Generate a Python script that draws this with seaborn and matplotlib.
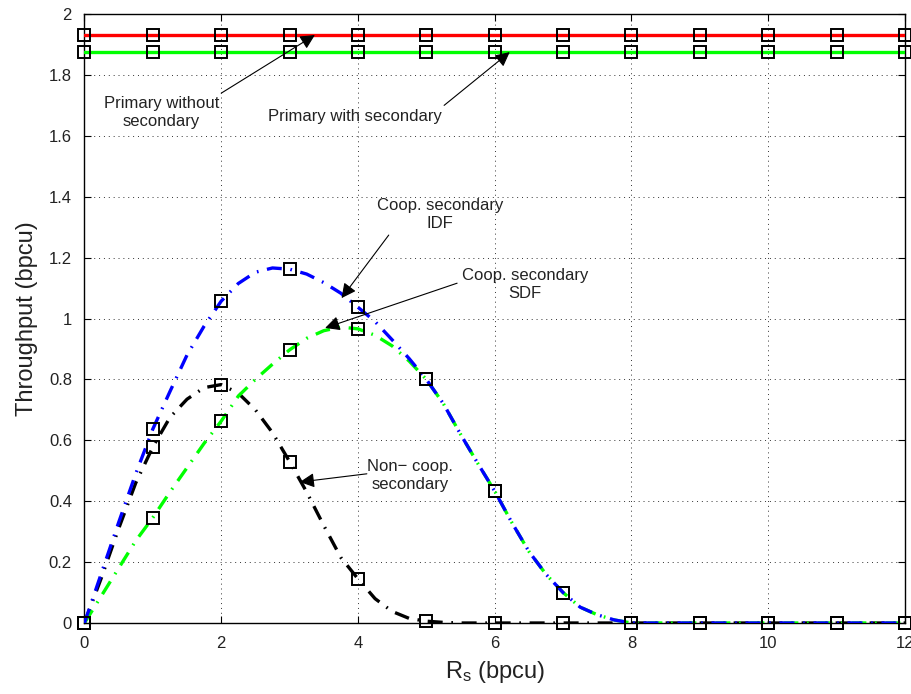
import numpy as np
import pandas as pd
import seaborn as sns
import matplotlib
matplotlib.use("Agg")
import matplotlib.pyplot as plt

# ---------------- data ----------------
rate_markers = list(range(0, 13))
primary_without = [1.931] * 13
primary_with = [1.875] * 13

idf_markers = [0.0, 0.637, 1.057, 1.162, 1.037, 0.800, 0.433, 0.100, 0.0, 0.0, 0.0, 0.0, 0.0]
sdf_markers = [0.0, 0.346, 0.663, 0.897, 0.966, 0.800, 0.433, 0.100, 0.0, 0.0, 0.0, 0.0, 0.0]
noncoop_markers = [0.0, 0.578, 0.783, 0.530, 0.145, 0.006, 0.0, 0.0, 0.0, 0.0, 0.0, 0.0, 0.0]

rate_curve = [0.0, 0.25, 0.5, 0.75, 1.0, 1.25, 1.5, 1.75, 2.0, 2.25, 2.5, 2.75, 3.0,
              3.25, 3.5, 3.75, 4.0, 4.25, 4.5, 4.75, 5.0, 5.25, 5.5, 5.75, 6.0,
              6.25, 6.5, 6.75, 7.0, 7.25, 7.5, 7.75, 8.0, 9.0, 10.0, 11.0, 12.0]
idf_curve = [0.0, 0.165, 0.33, 0.49, 0.637, 0.76, 0.88, 0.975, 1.057, 1.115, 1.152, 1.166, 1.162,
             1.146, 1.118, 1.083, 1.037, 0.99, 0.93, 0.868, 0.800, 0.72, 0.62, 0.525, 0.433,
             0.33, 0.235, 0.16, 0.100, 0.052, 0.027, 0.010, 0.0, 0.0, 0.0, 0.0, 0.0]
sdf_curve = [0.0, 0.09, 0.18, 0.27, 0.346, 0.43, 0.51, 0.59, 0.663, 0.745, 0.80, 0.85, 0.897,
             0.935, 0.96, 0.972, 0.966, 0.945, 0.91, 0.86, 0.800, 0.72, 0.62, 0.525, 0.433,
             0.33, 0.235, 0.16, 0.100, 0.052, 0.027, 0.010, 0.0, 0.0, 0.0, 0.0, 0.0]
noncoop_curve = [0.0, 0.15, 0.31, 0.46, 0.578, 0.675, 0.735, 0.773, 0.783, 0.755, 0.70, 0.625, 0.530,
                 0.43, 0.32, 0.215, 0.145, 0.08, 0.038, 0.015, 0.006, 0.002, 0.0, 0.0, 0.0,
                 0.0, 0.0, 0.0, 0.0, 0.0, 0.0, 0.0, 0.0, 0.0, 0.0, 0.0, 0.0]

x_ticks = [0, 2, 4, 6, 8, 10, 12]
y_ticks = [0, 0.2, 0.4, 0.6, 0.8, 1, 1.2, 1.4, 1.6, 1.8, 2]
y_ticklabels = ["0", "0.2", "0.4", "0.6", "0.8", "1", "1.2", "1.4", "1.6", "1.8", "2"]

# ---------------- style ----------------
sns.set_style("ticks")
plt.rcParams["font.family"] = ["Liberation Sans", "DejaVu Sans"]
plt.rcParams["mathtext.fontset"] = "custom"
plt.rcParams["mathtext.rm"] = "Liberation Sans"

TXT = "#222222"

fig = plt.figure(figsize=(9.11, 6.94), dpi=100)
ax = fig.add_axes([0.0927, 0.1023, 0.9007, 0.8775])

dashdot = (0, (4.5, 2.6, 0.5, 2.6))
LW = 2.4

# horizontal primary lines
sns.lineplot(x=rate_markers, y=primary_without, color="#ff0000", linewidth=LW, ax=ax, zorder=3)
sns.lineplot(x=rate_markers, y=primary_with, color="#00ff00", linewidth=LW, ax=ax, zorder=3)

# secondary curves
sns.lineplot(x=rate_curve, y=noncoop_curve, color="black", linewidth=LW, linestyle=dashdot, ax=ax, zorder=3)
sns.lineplot(x=rate_curve, y=sdf_curve, color="#00ff00", linewidth=LW, linestyle=dashdot, ax=ax, zorder=3)
sns.lineplot(x=rate_curve, y=idf_curve, color="#0000ff", linewidth=LW, linestyle=dashdot, ax=ax, zorder=3)

# square markers
for yy in [primary_without, primary_with, idf_markers, sdf_markers, noncoop_markers]:
    sns.lineplot(x=rate_markers, y=yy, marker="s", linestyle="none", markersize=8.5,
                 markerfacecolor="none", markeredgecolor="black", markeredgewidth=1.4,
                 color="black", ax=ax, zorder=4, clip_on=False)

ax.set_xlim(0, 12)
ax.set_ylim(0, 2)
ax.set_xticks(x_ticks)
ax.set_yticks(y_ticks)
ax.set_yticklabels(y_ticklabels)
ax.grid(True, color="#333333", linestyle=(0, (1, 4)), linewidth=0.7)
for s in ax.spines.values():
    s.set_visible(True)
    s.set_linewidth(1.0)
    s.set_color("black")
ax.tick_params(axis="both", direction="in", length=5, width=0.8, top=True, right=True,
               labelsize=12, colors="black", labelcolor=TXT)
ax.tick_params(axis="x", pad=9)
ax.tick_params(axis="y", pad=9)

ax.set_ylabel("Throughput (bpcu)", fontsize=17, labelpad=8, color=TXT)
ax.set_xlabel(r"$\mathregular{R_s}$ (bpcu)", fontsize=17, labelpad=6, color=TXT)

arrow = dict(arrowstyle="-|>", color="black", lw=0.8, mutation_scale=22, shrinkA=0, shrinkB=0)
fs = 12
ax.annotate("", xy=(3.37, 1.931), xytext=(2.0, 1.74), arrowprops=arrow, zorder=5)
ax.text(1.13, 1.675, "Primary without\nsecondary", ha="center", va="center", fontsize=fs,
        linespacing=1.25, color=TXT)
ax.annotate("", xy=(6.22, 1.875), xytext=(5.26, 1.70), arrowprops=arrow, zorder=5)
ax.text(3.95, 1.665, "Primary with secondary", ha="center", va="center", fontsize=fs, color=TXT)
ax.annotate("", xy=(3.76, 1.067), xytext=(4.45, 1.274), arrowprops=arrow, zorder=5)
ax.text(5.2, 1.34, "Coop. secondary\nIDF", ha="center", va="center", fontsize=fs,
        linespacing=1.25, color=TXT)
ax.annotate("", xy=(3.52, 0.969), xytext=(5.45, 1.116), arrowprops=arrow, zorder=5)
ax.text(6.44, 1.113, "Coop. secondary\nSDF", ha="center", va="center", fontsize=fs,
        linespacing=1.25, color=TXT)
ax.annotate("", xy=(3.15, 0.463), xytext=(4.13, 0.49), arrowprops=arrow, zorder=5)
ax.text(4.76, 0.486, "Non\u2212 coop.\nsecondary", ha="center", va="center", fontsize=fs,
        linespacing=1.25, color=TXT)

fig.savefig("out.png", dpi=100)
